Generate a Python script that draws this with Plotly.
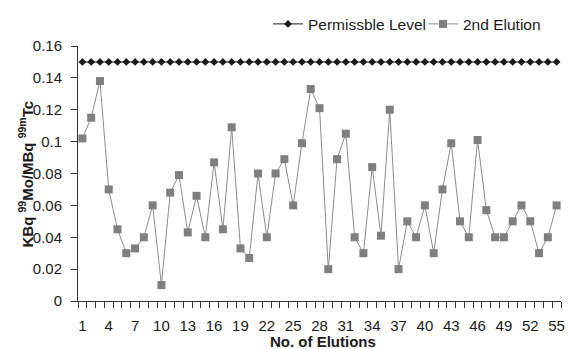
import plotly.graph_objects as go

elutions = list(range(1, 56))
permissible = [0.15] * 55
second_elution = [
    0.102, 0.115, 0.138, 0.070, 0.045, 0.030, 0.033, 0.040, 0.060, 0.010,
    0.068, 0.079, 0.043, 0.066, 0.040, 0.087, 0.045, 0.109, 0.033, 0.027,
    0.080, 0.040, 0.080, 0.089, 0.060, 0.099, 0.133, 0.121, 0.020, 0.089,
    0.105, 0.040, 0.030, 0.084, 0.041, 0.120, 0.020, 0.050, 0.040, 0.060,
    0.030, 0.070, 0.099, 0.050, 0.040, 0.101, 0.057, 0.040, 0.040, 0.050,
    0.060, 0.050, 0.030, 0.040, 0.060,
]
x_tickvals = list(range(1, 56, 3))
y_tickvals = [0, 0.02, 0.04, 0.06, 0.08, 0.1, 0.12, 0.14, 0.16]
y_ticktext = ["0", "0.02", "0.04", "0.06", "0.08", "0.1", "0.12", "0.14", "0.16"]

FONT = "Liberation Sans, Arial, sans-serif"

fig = go.Figure()
fig.add_trace(go.Scatter(
    x=elutions, y=permissible, name="Permissble Level", mode="lines+markers",
    line=dict(color="#1a1a1a", width=1),
    marker=dict(symbol="diamond", size=6, color="#1a1a1a"),
    legend="legend",
))
fig.add_trace(go.Scatter(
    x=elutions, y=second_elution, name="2nd Elution", mode="lines+markers",
    line=dict(color="#8c8c8c", width=1),
    marker=dict(symbol="square", size=8, color="#7f7f7f"),
    legend="legend2",
))

leg_common = dict(orientation="h", xanchor="left", yanchor="middle", y=1.085,
                  font=dict(size=15.5), itemwidth=30, bgcolor="rgba(0,0,0,0)",
                  borderwidth=0)

fig.update_layout(
    width=568, height=349,
    margin=dict(l=78, r=7, t=39, b=48),
    paper_bgcolor="white", plot_bgcolor="white",
    font=dict(family=FONT, size=15, color="#1a1a1a"),
    showlegend=True,
    legend=dict(x=(268 - 78) / 483, **leg_common),
    legend2=dict(x=(423 - 78) / 483, **leg_common),
    xaxis=dict(
        range=[0.5, 55.5], tickmode="array", tickvals=x_tickvals,
        ticks="", showgrid=False, zeroline=False, automargin=False,
        showline=True, linecolor="#333", linewidth=1,
        tickfont=dict(size=15), ticklabelstandoff=11,
        minor=dict(tickmode="linear", tick0=0.5, dtick=1, ticks="outside",
                   ticklen=6, tickcolor="#333", showgrid=False),
    ),
    yaxis=dict(
        range=[0, 0.16], tickmode="array", tickvals=y_tickvals, ticktext=y_ticktext,
        ticks="outside", ticklen=6, tickcolor="#333", automargin=False,
        showgrid=False, zeroline=False, ticklabelstandoff=6,
        showline=True, linecolor="#333", linewidth=1,
        tickfont=dict(size=15),
    ),
    annotations=[
        dict(
            text="<b>KBq <sup>99</sup>Mo/MBq <sup>99m</sup>Tc</b>",
            xref="paper", yref="paper", x=0, y=0.496, xshift=-52,
            xanchor="center", yanchor="middle", textangle=-90,
            showarrow=False, font=dict(size=15, family=FONT, color="#1a1a1a"),
        ),
        dict(
            text="<b>No. of Elutions</b>",
            xref="paper", yref="paper", x=0.5, y=0, xshift=3, yshift=-40,
            xanchor="center", yanchor="middle",
            showarrow=False, font=dict(size=15, family=FONT, color="#1a1a1a"),
        ),
    ],
)

fig.write_html(
    "out.html",
    config={"displayModeBar": False},
    post_script="document.body.style.margin='0';document.body.style.overflow='hidden';",
)
